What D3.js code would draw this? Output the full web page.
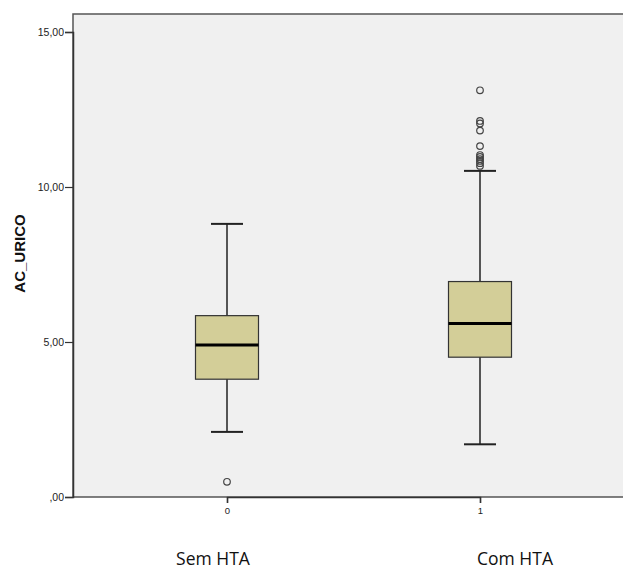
<!DOCTYPE html>
<html>
<head>
    <title>AC_URICO boxplot</title>
    <script src="https://cdnjs.cloudflare.com/ajax/libs/d3/7.8.5/d3.min.js"></script>
    <style>
        body { margin: 0; background: #fff; }
        .group-label { font-family: "Open Sans", "Noto Sans", sans-serif; font-size: 17.5px; fill: #111; }
    </style>
</head>
<body>
<svg id="chart"></svg>
<script>
    // categories and their labels
    const categories = ["0", "1"];
    const groupNames = ["Sem HTA", "Com HTA"];

    // box statistics
    const lowerWhisker = [2.10, 1.70];
    const q1 = [3.80, 4.51];
    const median = [4.90, 5.60];
    const q3 = [5.85, 6.95];
    const upperWhisker = [8.81, 10.52];
    const outliers = [
        [0.49],
        [13.12, 12.13, 12.05, 11.82, 11.32, 11.03, 10.97, 10.90, 10.84, 10.77, 10.68]
    ];

    const yTicks = [0, 5, 10, 15];

    const width = 623;
    const height = 571;
    const margin = { top: 14, bottom: 74, left: 73 };
    const axisFont = "'Liberation Sans', Arial, sans-serif";

    const svg = d3.select("#chart")
        .attr("width", width)
        .attr("height", height);

    const y = d3.scaleLinear()
        .domain([0, 15])
        .range([497, 32]);

    const x = d3.scalePoint()
        .domain(categories)
        .range([margin.left + 154, margin.left + 407]);

    const boxWidth = 63;
    const capWidth = 32;

    // plot background + frame (runs off the right edge)
    svg.append("rect")
        .attr("x", margin.left)
        .attr("y", margin.top)
        .attr("width", width - margin.left + 20)
        .attr("height", y(0) - margin.top)
        .attr("fill", "#f0f0f0")
        .attr("stroke", "#555")
        .attr("stroke-width", 1.5);

    // y axis
    const yAxis = svg.append("g")
        .attr("transform", `translate(${margin.left},0)`)
        .call(d3.axisLeft(y)
            .tickValues(yTicks)
            .tickSize(8)
            .tickFormat(d => d === 0 ? ",00" : d3.format(".2f")(d).replace(".", ",")));
    yAxis.select(".domain").attr("stroke", "#333").attr("stroke-width", 1.5);
    yAxis.selectAll(".tick line").attr("stroke", "#333").attr("stroke-width", 1.2);
    yAxis.selectAll(".tick text")
        .attr("x", -9)
        .attr("fill", "#222")
        .style("font-size", "10.5px")
        .style("font-family", axisFont);

    // x axis
    const xAxis = svg.append("g")
        .attr("transform", `translate(0,${y(0)})`)
        .call(d3.axisBottom(x).tickSize(6));
    xAxis.select(".domain").attr("stroke", "#333").attr("stroke-width", 1.5);
    xAxis.selectAll(".tick line").attr("stroke", "#333").attr("stroke-width", 1.2);
    xAxis.selectAll(".tick text")
        .attr("y", 10)
        .attr("fill", "#222")
        .style("font-size", "9.5px")
        .style("font-family", axisFont);

    // y axis title
    svg.append("text")
        .attr("transform", `translate(25,${(margin.top + y(0)) / 2 - 2}) rotate(-90)`)
        .attr("text-anchor", "middle")
        .style("font-family", axisFont)
        .style("font-size", "15px")
        .style("font-weight", "bold")
        .attr("fill", "#111")
        .text("AC_URICO");

    // group labels under the axis
    svg.selectAll(".group-label")
        .data(categories)
        .join("text")
        .attr("class", "group-label")
        .attr("x", (d, i) => x(d) + (i === 0 ? -14 : 35))
        .attr("y", 565)
        .attr("text-anchor", "middle")
        .text((d, i) => groupNames[i]);

    const boxes = svg.append("g")
        .selectAll("g")
        .data(categories)
        .join("g");

    // whiskers
    boxes.append("line")
        .attr("x1", d => x(d)).attr("x2", d => x(d))
        .attr("y1", (d, i) => y(upperWhisker[i]))
        .attr("y2", (d, i) => y(lowerWhisker[i]))
        .attr("stroke", "#222")
        .attr("stroke-width", 1.5);

    [upperWhisker, lowerWhisker].forEach(arr => {
        boxes.append("line")
            .attr("x1", d => x(d) - capWidth / 2)
            .attr("x2", d => x(d) + capWidth / 2)
            .attr("y1", (d, i) => y(arr[i]))
            .attr("y2", (d, i) => y(arr[i]))
            .attr("stroke", "#222")
            .attr("stroke-width", 2);
    });

    // box
    boxes.append("rect")
        .attr("x", d => x(d) - boxWidth / 2)
        .attr("width", boxWidth)
        .attr("y", (d, i) => y(q3[i]))
        .attr("height", (d, i) => y(q1[i]) - y(q3[i]))
        .attr("fill", "#d3ce98")
        .attr("stroke", "#333")
        .attr("stroke-width", 1.2);

    // median
    boxes.append("line")
        .attr("x1", d => x(d) - boxWidth / 2)
        .attr("x2", d => x(d) + boxWidth / 2)
        .attr("y1", (d, i) => y(median[i]))
        .attr("y2", (d, i) => y(median[i]))
        .attr("stroke", "#000")
        .attr("stroke-width", 3);

    // outliers
    boxes.selectAll("circle")
        .data((d, i) => outliers[i].map(v => ({ cat: d, v })))
        .join("circle")
        .attr("cx", d => x(d.cat))
        .attr("cy", d => y(d.v))
        .attr("r", 3.3)
        .attr("fill", "none")
        .attr("stroke", "#444")
        .attr("stroke-width", 1.2);
</script>
</body>
</html>
